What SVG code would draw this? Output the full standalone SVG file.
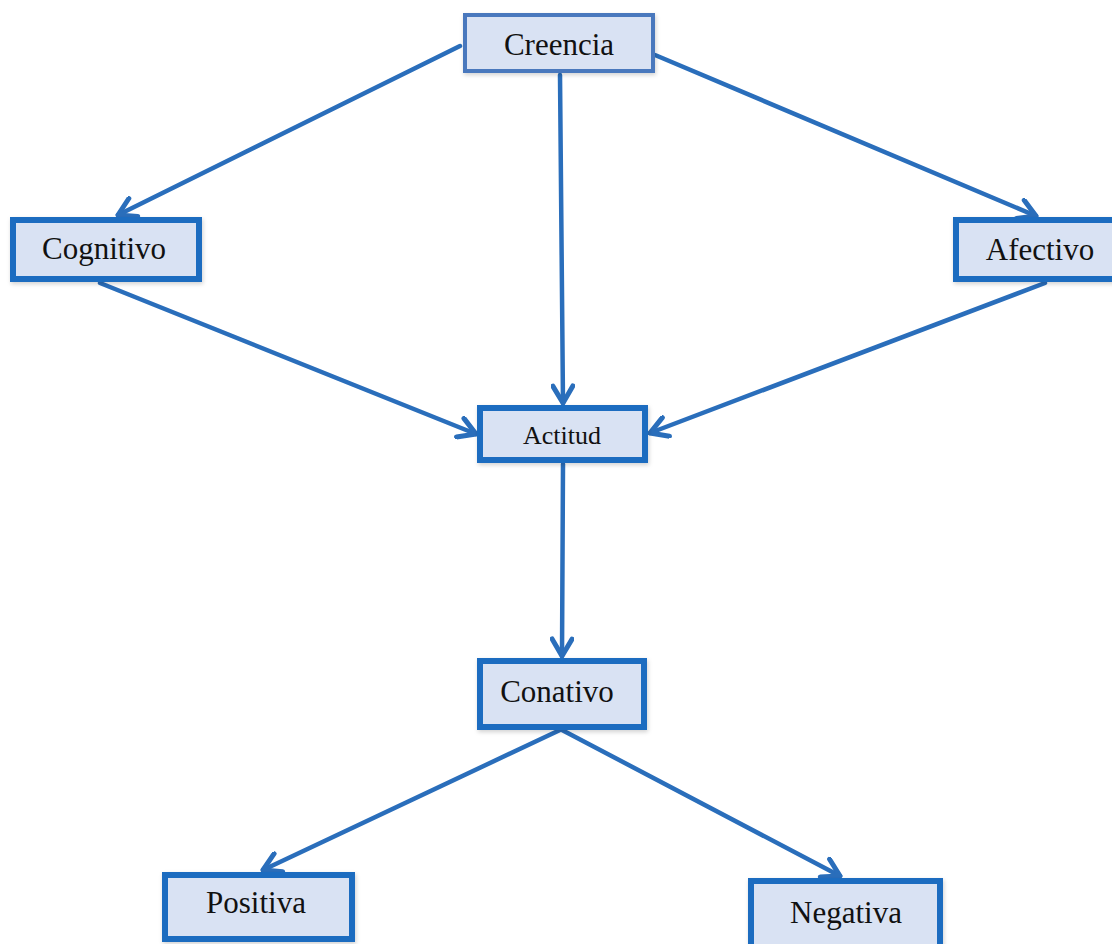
<svg xmlns="http://www.w3.org/2000/svg" width="1112" height="944" viewBox="0 0 1112 944">
  <style>
    .box { fill: #d9e2f3; stroke: #1f6cc0; stroke-width: 6; }
    .box-thin { fill: #d9e2f3; stroke: #4a78bd; stroke-width: 4; }
    text { font-family: 'Liberation Serif', 'Times New Roman', serif; font-size: 31px; fill: #111111; text-anchor: middle; }
    .conn { stroke: #2a6ebb; stroke-width: 4.5; fill: none; stroke-linecap: round; marker-end: url(#arr); }
  </style>
  <defs>
    <marker id="arr" markerUnits="userSpaceOnUse" viewBox="-20 -12 23 24" markerWidth="23" markerHeight="24" refX="0" refY="0" orient="auto">
      <path d="M -17 -10 L 0 0 L -17 10" fill="none" stroke="#2a6ebb" stroke-width="5" stroke-linecap="round" stroke-linejoin="round"/>
    </marker>
    <filter id="sh" x="-10%" y="-10%" width="120%" height="130%">
      <feDropShadow dx="1" dy="2" stdDeviation="2" flood-color="#000" flood-opacity="0.18"/>
    </filter>
  </defs>
  <rect width="1112" height="944" fill="#ffffff"/>
  <g id="connectors">
    <line class="conn" x1="460" y1="46" x2="118" y2="215"/>
    <line class="conn" x1="655" y1="55" x2="1036" y2="216"/>
    <line class="conn" x1="560" y1="75" x2="563" y2="403"/>
    <line class="conn" x1="100" y1="283" x2="476" y2="434"/>
    <line class="conn" x1="1045" y1="283" x2="650" y2="433"/>
    <line class="conn" x1="563" y1="464" x2="562" y2="656"/>
    <line class="conn" x1="560" y1="730" x2="263" y2="870"/>
    <line class="conn" x1="562" y1="730" x2="840" y2="876"/>
  </g>
  <g id="creencia">
    <rect class="box-thin" x="465" y="15" width="188" height="56" filter="url(#sh)"/>
    <text x="559" y="55">Creencia</text>
  </g>
  <g id="cognitivo">
    <rect class="box" x="13" y="220" width="186" height="59" filter="url(#sh)"/>
    <text x="104" y="259">Cognitivo</text>
  </g>
  <g id="afectivo">
    <rect class="box" x="956" y="220" width="170" height="59" filter="url(#sh)"/>
    <text x="1040" y="260">Afectivo</text>
  </g>
  <g id="actitud">
    <rect class="box" x="480" y="408" width="165" height="52" filter="url(#sh)"/>
    <text x="562" y="444" style="font-size:26px">Actitud</text>
  </g>
  <g id="conativo">
    <rect class="box" x="480" y="661" width="164" height="66" filter="url(#sh)"/>
    <text x="557" y="702">Conativo</text>
  </g>
  <g id="positiva">
    <rect class="box" x="165" y="875" width="187" height="64" filter="url(#sh)"/>
    <text x="256" y="913">Positiva</text>
  </g>
  <g id="negativa">
    <rect class="box" x="751" y="881" width="189" height="66" filter="url(#sh)"/>
    <text x="846" y="923">Negativa</text>
  </g>
</svg>
